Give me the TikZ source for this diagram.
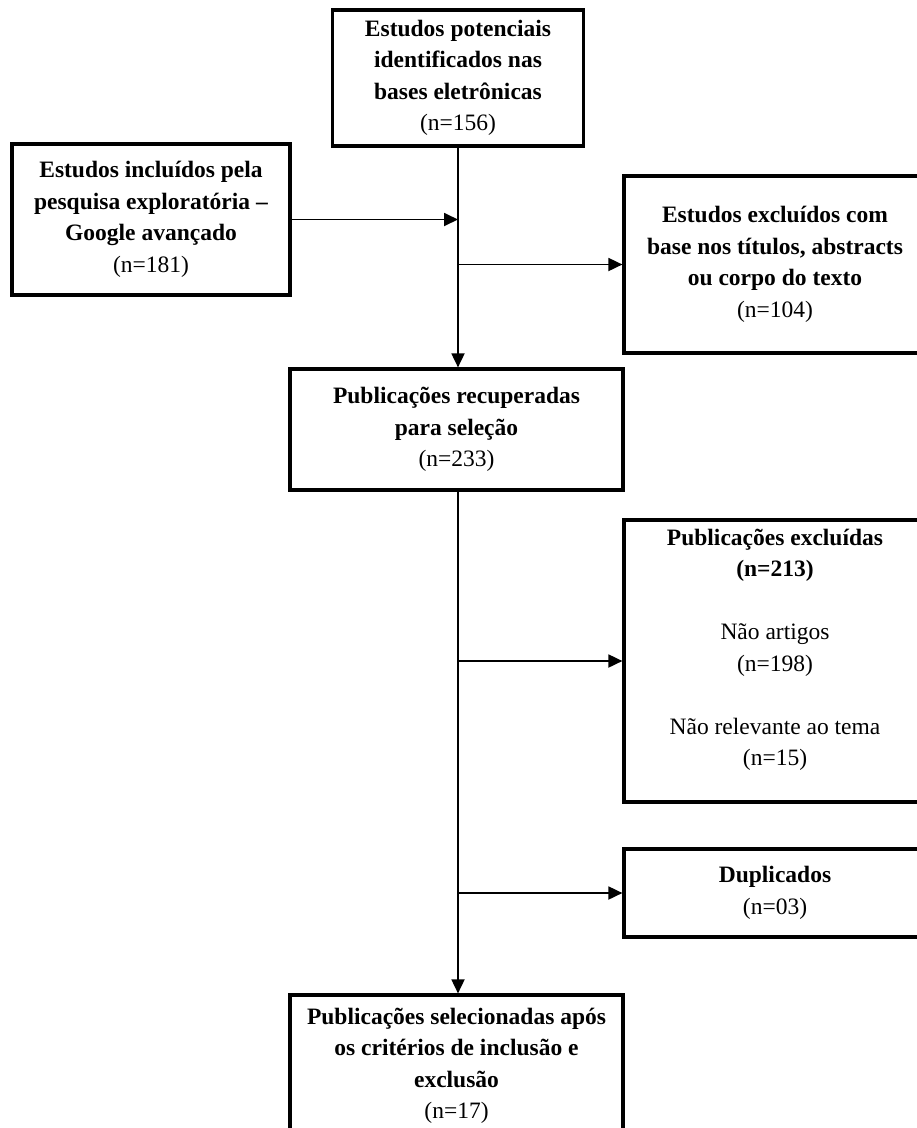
\documentclass[tikz,border=0pt]{standalone}
\usepackage{fontspec}
\setmainfont{Liberation Serif}
\usetikzlibrary{arrows.meta,positioning}

\begin{document}
\begin{tikzpicture}[x=1pt,y=-1pt,
  bx/.style={draw,line width=3.2pt,align=center,inner sep=2pt,
    font=\fontsize{23.5}{31.5}\selectfont},
  fw/.style={-{Triangle[length=14pt,width=13pt]},line width=1.8pt}]
  \clip (0,0) rectangle (917,1128);
  \node[bx,minimum width=251pt,minimum height=136pt] (id) at (458,78)
    {\textbf{Estudos potenciais}\\\textbf{identificados nas}\\\textbf{bases eletrônicas}\\(n=156)};
  \node[bx,minimum width=278pt,minimum height=151pt] (inc) at (151,219.5)
    {\textbf{Estudos incluídos pela}\\\textbf{pesquisa exploratória –}\\\textbf{Google avançado}\\(n=181)};
  \node[bx,minimum width=302pt,minimum height=177pt] (exc) at (775,264.5)
    {\textbf{Estudos excluídos com}\\\textbf{base nos títulos, abstracts}\\\textbf{ou corpo do texto}\\(n=104)};
  \node[bx,minimum width=333pt,minimum height=121pt] (rec) at (456.5,429.5)
    {\textbf{Publicações recuperadas}\\\textbf{para seleção}\\(n=233)};
  \node[bx,minimum width=302pt,minimum height=282pt] (excl) at (775,661)
    {\textbf{Publicações excluídas}\\\textbf{(n=213)}\\[31.5pt]Não artigos\\(n=198)\\[31.5pt]Não relevante ao tema\\(n=15)\\[-4pt]\mbox{}};
  \node[bx,minimum width=302pt,minimum height=88pt] (dup) at (775,893)
    {\textbf{Duplicados}\\(n=03)};
  \node[bx,minimum width=333pt,minimum height=142pt] (sel) at (456.5,1066)
    {\textbf{Publicações selecionadas após}\\\textbf{os critérios de inclusão e}\\\textbf{exclusão}\\(n=17)};
  % tronco central
  \draw[fw] (id.south) -- (id.south |- rec.north);
  \draw[fw] (inc) -- (inc -| id.south);
  \draw[fw] (exc -| id.south) -- (exc);
  \draw[fw] (rec.south -| id.south) -- (sel.north -| id.south);
  \draw[fw] (excl -| id.south) -- (excl);
  \draw[fw] (dup -| id.south) -- (dup);
\end{tikzpicture}
\end{document}
